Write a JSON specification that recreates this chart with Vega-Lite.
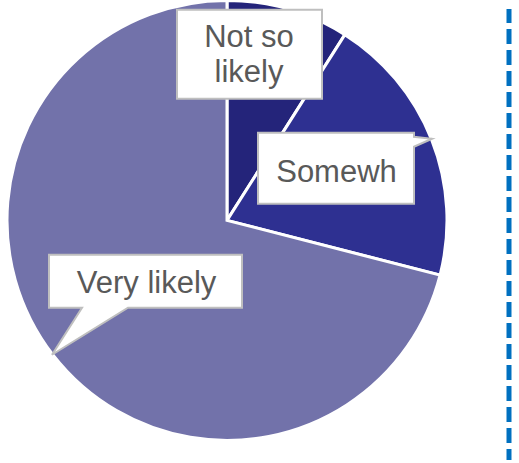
{
  "$schema": "https://vega.github.io/schema/vega-lite/v6.json",
  "width": 519,
  "height": 463,
  "autosize": {"type": "fit", "contains": "padding"},
  "padding": 0,
  "background": "white",
  "config": {"view": {"stroke": null}},
  "data": {
    "values": [
      {"category": "Not so likely", "label": "Not so\nlikely", "value": 9, "rank": 1},
      {"category": "Somewhat likely", "label": "Somewh", "value": 20, "rank": 2},
      {"category": "Very likely", "label": "Very likely", "value": 71, "rank": 3}
    ]
  },
  "layer": [
    {
      "mark": {"type": "arc", "outerRadius": 220, "stroke": "white", "strokeWidth": 3},
      "encoding": {
        "x": {"datum": 227, "type": "quantitative", "scale": {"domain": [0, 519], "nice": false, "zero": false}, "axis": null},
        "y": {"datum": 217, "type": "quantitative", "scale": {"domain": [0, 463], "nice": false, "zero": false, "reverse": true}, "axis": null},
        "theta": {"field": "value", "type": "quantitative", "stack": true},
        "order": {"field": "rank", "type": "quantitative"},
        "color": {"field": "category", "type": "nominal", "legend": null,
          "scale": {"domain": ["Not so likely", "Somewhat likely", "Very likely"], "range": ["#24247a", "#2e3091", "#7272aa"]}}
      }
    },
    {
      "transform": [{"filter": "datum.category === 'Not so likely'"}],
      "mark": {"type": "point", "shape": "M-0.725,-0.445H0.725V0.445H-0.725Z", "size": 40000, "filled": true, "fill": "white", "stroke": "#bfbfbf", "strokeWidth": 2, "opacity": 1},
      "encoding": {
        "x": {"datum": 249.5, "type": "quantitative"},
        "y": {"datum": 46.5, "type": "quantitative"}
      }
    },
    {
      "transform": [{"filter": "datum.category === 'Somewhat likely'"}],
      "mark": {"type": "point", "shape": "M-0.78,-0.355H0.78V-0.315L0.96,-0.295L0.78,-0.215V0.355H-0.78Z", "size": 40000, "filled": true, "fill": "white", "stroke": "#bfbfbf", "strokeWidth": 2, "opacity": 1},
      "encoding": {
        "x": {"datum": 336, "type": "quantitative"},
        "y": {"datum": 163.5, "type": "quantitative"}
      }
    },
    {
      "transform": [{"filter": "datum.category === 'Very likely'"}],
      "mark": {"type": "point", "shape": "M-0.965,-0.265H0.965V0.265H-0.175L-0.935,0.735L-0.635,0.265H-0.965Z", "size": 40000, "filled": true, "fill": "white", "stroke": "#bfbfbf", "strokeWidth": 2, "opacity": 1},
      "encoding": {
        "x": {"datum": 145.5, "type": "quantitative"},
        "y": {"datum": 279.5, "type": "quantitative"}
      }
    },
    {
      "transform": [{"filter": "datum.category === 'Not so likely'"}],
      "mark": {"type": "text", "font": "Liberation Sans", "fontSize": 31, "color": "#595959", "align": "center", "baseline": "alphabetic", "lineBreak": "\n", "lineHeight": 35},
      "encoding": {
        "x": {"datum": 249, "type": "quantitative"},
        "y": {"datum": 39, "type": "quantitative"},
        "text": {"field": "label"}
      }
    },
    {
      "transform": [{"filter": "datum.category === 'Somewhat likely'"}],
      "mark": {"type": "text", "font": "Liberation Sans", "fontSize": 31, "color": "#595959", "align": "center", "baseline": "alphabetic"},
      "encoding": {
        "x": {"datum": 336.5, "type": "quantitative"},
        "y": {"datum": 178, "type": "quantitative"},
        "text": {"field": "label"}
      }
    },
    {
      "transform": [{"filter": "datum.category === 'Very likely'"}],
      "mark": {"type": "text", "font": "Liberation Sans", "fontSize": 31, "color": "#595959", "align": "center", "baseline": "alphabetic"},
      "encoding": {
        "x": {"datum": 146.5, "type": "quantitative"},
        "y": {"datum": 292, "type": "quantitative"},
        "text": {"field": "label"}
      }
    },
    {
      "transform": [{"filter": "datum.rank === 1"}],
      "mark": {"type": "rule", "color": "#0070c0", "strokeWidth": 5, "strokeDash": [15, 6], "strokeDashOffset": 1, "strokeCap": "butt"},
      "encoding": {
        "x": {"datum": 509, "type": "quantitative"},
        "y": {"datum": 0, "type": "quantitative"},
        "y2": {"datum": 463}
      }
    }
  ]
}
